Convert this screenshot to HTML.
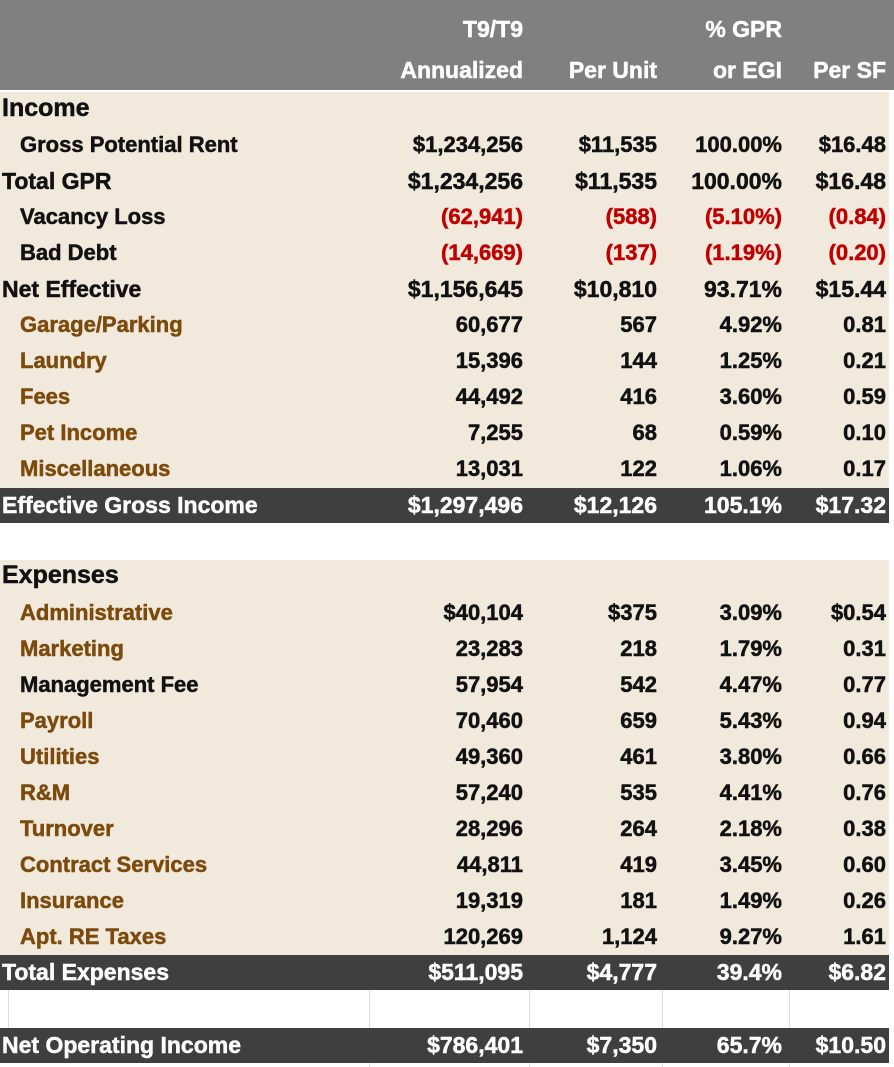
<!DOCTYPE html>
<html><head><meta charset="utf-8"><style>
body{margin:0;width:894px;height:1067px;background:#fff;font-family:"Liberation Sans",sans-serif;font-weight:bold;position:relative;overflow:hidden}
.bg{position:absolute;left:0;width:889px}
.r{position:absolute;left:0;width:894px;height:36px;line-height:36px;font-size:22px;color:#111;-webkit-text-stroke:0.5px currentColor}
.r span{position:absolute;top:0;white-space:nowrap}
.l{left:2px}.ind{left:20px}
.c1{right:371px}.c2{right:237px}.c3{right:112px}.c4{right:8px}
.br{color:#7b4a0c}.red{color:#c00000}.wh{color:#fff}
.h{position:absolute;color:#fff;font-size:23px;white-space:nowrap;-webkit-text-stroke:0.5px #fff}
</style></head><body>
<div style="position:absolute;top:990px;height:77px;left:0;width:894px">
<div style="position:absolute;left:8px;top:0;width:1px;height:38px;background:#ddd"></div>
<div style="position:absolute;left:369px;top:0;width:1px;height:77px;background:#ddd"></div>
<div style="position:absolute;left:529px;top:0;width:1px;height:77px;background:#ddd"></div>
<div style="position:absolute;left:662px;top:0;width:1px;height:77px;background:#ddd"></div>
<div style="position:absolute;left:789px;top:0;width:1px;height:77px;background:#ddd"></div>
</div>
<div class="bg" style="top:0;height:90px;background:#808080;width:894px"></div>
<div class="bg" style="top:92px;height:396px;background:#f2e9dd"></div>
<div class="bg" style="top:560px;height:395px;background:#f2e9dd"></div>
<div class="bg" style="top:488px;height:35px;background:#3f3f3f"></div>
<div class="bg" style="top:955px;height:35px;background:#3f3f3f"></div>
<div class="bg" style="top:1028px;height:35px;background:#3f3f3f"></div>
<div class="h" style="right:371px;top:16px">T9/T9</div>
<div class="h" style="right:112px;top:16px">% GPR</div>
<div class="h" style="right:371px;top:57px">Annualized</div>
<div class="h" style="right:237px;top:57px">Per Unit</div>
<div class="h" style="right:112px;top:57px">or EGI</div>
<div class="h" style="right:8px;top:57px">Per SF</div>
<div id="rows"></div>
<script>
const rows=[
[90,'l','','Income','','','','',25],
[127,'ind','','Gross Potential Rent','$1,234,256','$11,535','100.00%','$16.48'],
[163,'l','','Total GPR','$1,234,256','$11,535','100.00%','$16.48',23],
[199,'ind','red','Vacancy Loss','(62,941)','(588)','(5.10%)','(0.84)'],
[235,'ind','red','Bad Debt','(14,669)','(137)','(1.19%)','(0.20)'],
[271,'l','','Net Effective','$1,156,645','$10,810','93.71%','$15.44',23],
[307,'ind','br','Garage/Parking','60,677','567','4.92%','0.81'],
[343,'ind','br','Laundry','15,396','144','1.25%','0.21'],
[379,'ind','br','Fees','44,492','416','3.60%','0.59'],
[415,'ind','br','Pet Income','7,255','68','0.59%','0.10'],
[451,'ind','br','Miscellaneous','13,031','122','1.06%','0.17'],
[487,'l','wh','Effective Gross Income','$1,297,496','$12,126','105.1%','$17.32',23],
[557,'l','','Expenses','','','','',25],
[595,'ind','br','Administrative','$40,104','$375','3.09%','$0.54'],
[631,'ind','br','Marketing','23,283','218','1.79%','0.31'],
[667,'ind','','Management Fee','57,954','542','4.47%','0.77'],
[703,'ind','br','Payroll','70,460','659','5.43%','0.94'],
[739,'ind','br','Utilities','49,360','461','3.80%','0.66'],
[775,'ind','br','R&M','57,240','535','4.41%','0.76'],
[811,'ind','br','Turnover','28,296','264','2.18%','0.38'],
[847,'ind','br','Contract Services','44,811','419','3.45%','0.60'],
[883,'ind','br','Insurance','19,319','181','1.49%','0.26'],
[919,'ind','br','Apt. RE Taxes','120,269','1,124','9.27%','1.61'],
[954,'l','wh','Total Expenses','$511,095','$4,777','39.4%','$6.82',23],
[1027,'l','wh','Net Operating Income','$786,401','$7,350','65.7%','$10.50',23]];
const root=document.getElementById('rows');
rows.forEach(r=>{
 const d=document.createElement('div');d.className='r';d.style.top=r[0]+'px';
 
 
 if(r[8])d.style.fontSize=r[8]+'px';
 const labColor=r[2]==='red'?'':r[2];
 const valColor=r[2]==='br'?'':r[2];
 const cells=[[r[1],labColor,r[3]],['c1',valColor,r[4]],['c2',valColor,r[5]],['c3',valColor,r[6]],['c4',valColor,r[7]]];
 cells.forEach((c,i)=>{const s=document.createElement('span');s.className=c[0]+' '+c[1];s.textContent=c[2];
 
 
 d.appendChild(s);});
 root.appendChild(d);
});
</script>
</body></html>
